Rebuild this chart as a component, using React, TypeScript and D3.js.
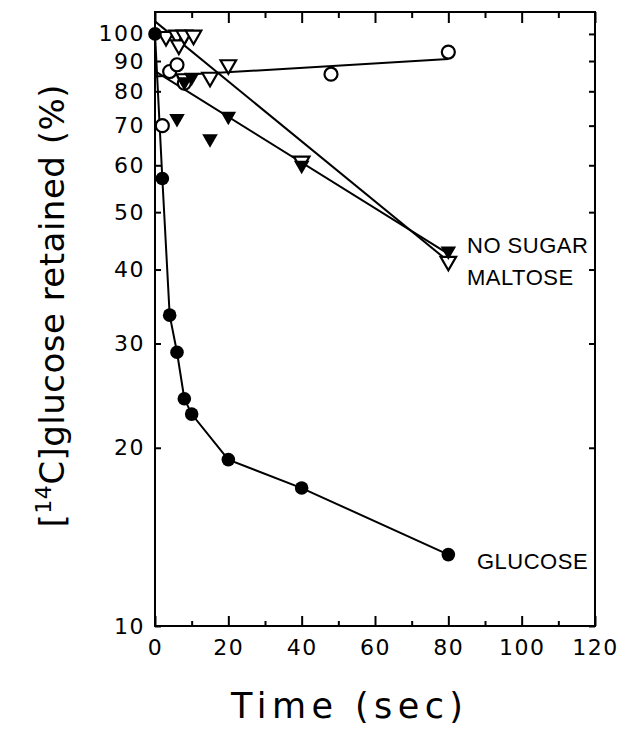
import * as d3 from "d3";
import { useEffect, useRef } from "react";

const width = 631;
const height = 734;
const plot = { left: 155, right: 595, top: 12, bottom: 626 };

const xMajorTicks = [0, 20, 40, 60, 80, 100, 120];
const xMinorTicks = [10, 30, 50, 70, 90, 110];
const yTicks = [10, 20, 30, 40, 50, 60, 70, 80, 90, 100];

// glucose (filled circles, joined point to point)
const glucoseTime = [0, 2, 4, 6, 8, 10, 20, 40, 80];
const glucoseValue = [100, 57, 33.5, 29, 24.2, 22.8, 19.1, 17.1, 13.2];

// no sugar (filled triangles)
const noSugarTime = [6, 8, 10, 15, 20, 40, 80];
const noSugarValue = [72, 83, 84.5, 66.5, 72.6, 60, 43];

// maltose (open triangles)
const maltoseTime = [3, 6, 6.5, 8, 10.5, 8, 15, 20, 40, 80];
const maltoseValue = [99, 99.5, 95.8, 99.5, 99.5, 84, 84.5, 88.7, 61, 41.3];

// unlabeled control (open circles)
const controlTime = [2, 4, 6, 8, 48, 80];
const controlValue = [70, 86.4, 88.7, 82.6, 85.5, 93.2];

// fitted straight lines (on the log scale)
const fitTime = [0, 80];
const maltoseFit = [105, 41.3];
const noSugarFit = [86.5, 42.5];
const controlFit = [84.7, 90.7];

const zip = (t: number[], v: number[]) => t.map((d, i) => ({ t: d, v: v[i] }));

export default function App() {
  const svgRef = useRef<SVGSVGElement>(null);

  useEffect(() => {
    if (!svgRef.current) return;
    const svg = d3.select(svgRef.current);
    svg.selectAll("*").remove();

    const x = d3.scaleLinear().domain([0, 120]).range([plot.left, plot.right]);
    const y = d3.scaleLog().domain([10, 108.9]).range([plot.bottom, plot.top]);

    const tickFont = "'DejaVu Sans', sans-serif";
    const labelFont = "'Liberation Sans', Arial, sans-serif";

    const styleAxis = (g: d3.Selection<SVGGElement, unknown, null, undefined>) => {
      g.select(".domain").remove();
      g.selectAll("line").attr("stroke", "#000").attr("stroke-width", 2);
      g.selectAll("text")
        .attr("font-size", 22)
        .attr("font-family", tickFont)
        .attr("letter-spacing", 1.5)
        .attr("fill", "#000");
    };

    // bottom axis
    svg.append("g")
      .attr("transform", `translate(0,${plot.bottom})`)
      .call(d3.axisBottom(x).tickValues(xMajorTicks).tickSize(-10).tickPadding(13).tickFormat(d3.format("d")))
      .call(styleAxis);
    svg.append("g")
      .attr("transform", `translate(0,${plot.bottom})`)
      .call(d3.axisBottom(x).tickValues(xMinorTicks).tickSize(-5).tickFormat(() => ""))
      .call(styleAxis);

    // top axis (mirror ticks)
    svg.append("g")
      .attr("transform", `translate(0,${plot.top})`)
      .call(d3.axisTop(x).tickValues(xMajorTicks).tickSize(-11).tickFormat(() => ""))
      .call(styleAxis);
    svg.append("g")
      .attr("transform", `translate(0,${plot.top})`)
      .call(d3.axisTop(x).tickValues(xMinorTicks).tickSize(-6).tickFormat(() => ""))
      .call(styleAxis);

    // left axis
    svg.append("g")
      .attr("transform", `translate(${plot.left},0)`)
      .call(d3.axisLeft(y).tickValues(yTicks).tickSize(-6).tickPadding(10).tickFormat(d3.format("d")))
      .call(styleAxis);

    // right axis (mirror ticks)
    svg.append("g")
      .attr("transform", `translate(${plot.right},0)`)
      .call(d3.axisRight(y).tickValues(yTicks).tickSize(-6).tickFormat(() => ""))
      .call(styleAxis);

    svg.append("rect")
      .attr("x", plot.left)
      .attr("y", plot.top)
      .attr("width", plot.right - plot.left)
      .attr("height", plot.bottom - plot.top)
      .attr("fill", "none")
      .attr("stroke", "#000")
      .attr("stroke-width", 2);

    const line = d3.line<{ t: number; v: number }>()
      .x((d) => x(d.t))
      .y((d) => y(d.v));

    const drawLine = (data: { t: number; v: number }[]) => {
      svg.append("path")
        .datum(data)
        .attr("d", line)
        .attr("fill", "none")
        .attr("stroke", "#000")
        .attr("stroke-width", 2);
    };

    drawLine(zip(fitTime, maltoseFit));
    drawLine(zip(fitTime, noSugarFit));
    drawLine(zip(fitTime, controlFit));
    drawLine(zip(glucoseTime, glucoseValue));

    const tri = d3.symbol().type(d3.symbolTriangle).size(105);

    // open circles
    svg.append("g").selectAll("circle")
      .data(zip(controlTime, controlValue))
      .join("circle")
      .attr("cx", (d) => x(d.t))
      .attr("cy", (d) => y(d.v))
      .attr("r", 6.5)
      .attr("fill", "#fff")
      .attr("stroke", "#000")
      .attr("stroke-width", 2.2);

    // open triangles (maltose)
    svg.append("g").selectAll("path")
      .data(zip(maltoseTime, maltoseValue))
      .join("path")
      .attr("d", tri)
      .attr("transform", (d) => `translate(${x(d.t)},${y(d.v)}) rotate(180)`)
      .attr("fill", "#fff")
      .attr("stroke", "#000")
      .attr("stroke-width", 2.2);

    // filled triangles (no sugar)
    svg.append("g").selectAll("path")
      .data(zip(noSugarTime, noSugarValue))
      .join("path")
      .attr("d", tri)
      .attr("transform", (d) => `translate(${x(d.t)},${y(d.v)}) rotate(180)`)
      .attr("fill", "#000");

    // filled circles (glucose)
    svg.append("g").selectAll("circle")
      .data(zip(glucoseTime, glucoseValue))
      .join("circle")
      .attr("cx", (d) => x(d.t))
      .attr("cy", (d) => y(d.v))
      .attr("r", 6.8)
      .attr("fill", "#000");

    const seriesLabels = [
      { text: "NO SUGAR", x: 467, y: 253 },
      { text: "MALTOSE", x: 467, y: 285 },
      { text: "GLUCOSE", x: 477, y: 569 },
    ];
    svg.append("g").selectAll("text")
      .data(seriesLabels)
      .join("text")
      .attr("x", (d) => d.x)
      .attr("y", (d) => d.y)
      .attr("font-size", 22)
      .attr("font-family", labelFont)
      .attr("letter-spacing", 0.5)
      .text((d) => d.text);

    svg.append("text")
      .attr("x", 347)
      .attr("y", 718)
      .attr("text-anchor", "middle")
      .attr("font-size", 35)
      .attr("font-family", tickFont)
      .attr("textLength", 232)
      .attr("lengthAdjust", "spacing")
      .text("Time (sec)");

    const yTitle = svg.append("text")
      .attr("transform", "rotate(-90)")
      .attr("x", -306)
      .attr("y", 64)
      .attr("text-anchor", "middle")
      .attr("font-size", 34)
      .attr("font-family", tickFont)
      .attr("textLength", 443)
      .attr("lengthAdjust", "spacing");
    yTitle.append("tspan").text("[");
    yTitle.append("tspan").attr("dy", -13).attr("font-size", 22).text("14");
    yTitle.append("tspan").attr("dy", 13).text("C]glucose retained (%)");
  }, []);

  return (
    <svg
      ref={svgRef}
      width={width}
      height={height}
      style={{ position: "absolute", left: 0, top: 0, background: "#fff" }}
    ></svg>
  );
}
